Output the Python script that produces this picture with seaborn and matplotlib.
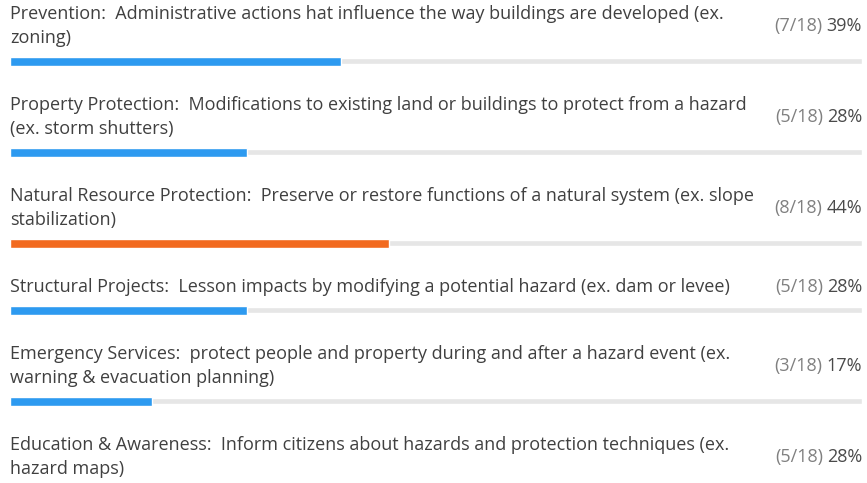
import matplotlib
matplotlib.use("Agg")
import matplotlib.pyplot as plt
import seaborn as sns
import pandas as pd

sns.set_theme(style="white")
plt.rcParams['font.family'] = ['Open Sans', 'DejaVu Sans']

# ---- data ----
labels = [
    "Prevention:  Administrative actions hat influence the way buildings are developed (ex.\nzoning)",
    "Property Protection:  Modifications to existing land or buildings to protect from a hazard\n(ex. storm shutters)",
    "Natural Resource Protection:  Preserve or restore functions of a natural system (ex. slope\nstabilization)",
    "Structural Projects:  Lesson impacts by modifying a potential hazard (ex. dam or levee)",
    "Emergency Services:  protect people and property during and after a hazard event (ex.\nwarning & evacuation planning)",
    "Education & Awareness:  Inform citizens about hazards and protection techniques (ex.\nhazard maps)",
]
counts = [7, 5, 8, 5, 3, 5]
total = 18
highlight = [False, False, True, False, False, False]

BLUE = "#2D9AF0"
ORANGE = "#F26A1F"
TRACK = "#E6E6E6"
TEXT = "#404040"
FRAC = "#808080"

W, H = 867, 483
fig = plt.figure(figsize=(W / 100, H / 100), dpi=100)
fig.patch.set_facecolor("white")

def fx(x):
    return x / W

def fy(y):
    return 1 - y / H

X0, X1 = 10, 862
LINE = 24
FS = 13

df = pd.DataFrame({"label": labels, "count": counts, "total": total})
df["pct"] = df["count"] / df["total"]

renderer = fig.canvas.get_renderer()
y = 14  # center of first text line of first row
for i, row in df.iterrows():
    lines = row["label"].split("\n")
    for k, ln in enumerate(lines):
        fig.text(fx(X0), fy(y + k * LINE), ln, ha="left", va="center",
                 fontsize=FS, color=TEXT)
    ymid = y + (len(lines) - 1) * LINE / 2
    pct_txt = fig.text(fx(X1), fy(ymid), f"{round(100 * row['pct'])}%",
                       ha="right", va="center", fontsize=FS, color="#4a4a4a")
    bb = pct_txt.get_window_extent(renderer=renderer)
    fig.text(fx(bb.x0 - 4), fy(ymid), f"({row['count']}/{row['total']})",
             ha="right", va="center", fontsize=FS, color=FRAC)

    bar_c = y + LINE * len(lines) - 1
    bh = 9
    ax = fig.add_axes([fx(X0), fy(bar_c + bh / 2), fx(X1 - X0), bh / H])
    one = pd.DataFrame({"v": [1.0], "c": ["a"]})
    sns.barplot(data=one, x="v", y="c", orient="h", color=TRACK, width=0.75,
                ax=ax, saturation=1)
    val = pd.DataFrame({"v": [row["pct"]], "c": ["a"]})
    sns.barplot(data=val, x="v", y="c", orient="h",
                color=ORANGE if highlight[i] else BLUE, width=1.0,
                ax=ax, saturation=1)
    ax.set_xlim(0, 1)
    ax.set_ylim(0.5, -0.5)
    ax.axis("off")
    y = bar_c + 44

fig.savefig("out.png", dpi=100, facecolor="white")
